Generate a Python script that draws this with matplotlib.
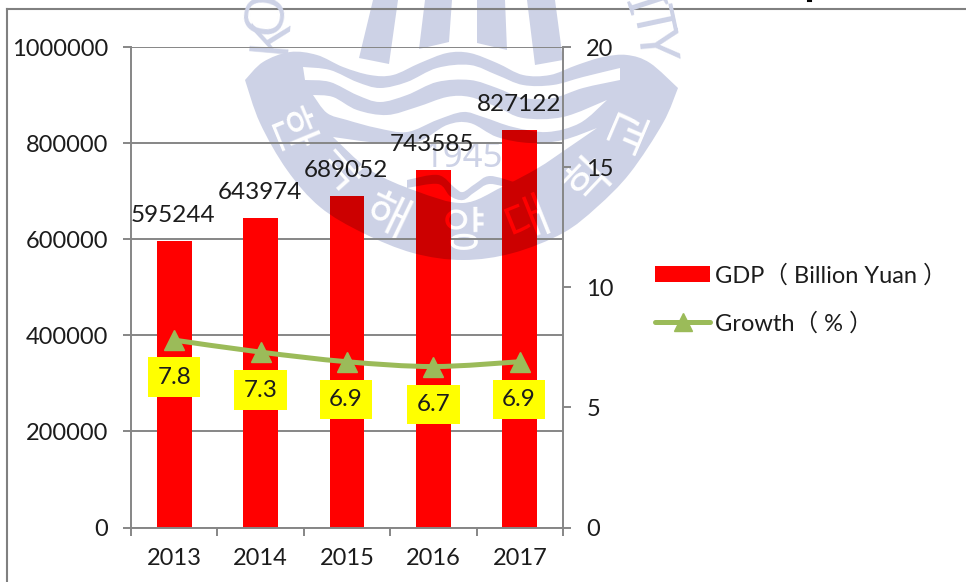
import matplotlib
matplotlib.use('Agg')
import matplotlib.pyplot as plt
import matplotlib.patheffects as pe
import numpy as np
from matplotlib.font_manager import FontProperties
from matplotlib.lines import Line2D
from matplotlib.patches import Patch, PathPatch, Polygon
from matplotlib.path import Path

plt.rcParams['font.family'] = ['Lato', 'Noto Sans CJK SC', 'DejaVu Sans']

# chart data
years = ['2013', '2014', '2015', '2016', '2017']
gdp = [595244, 643974, 689052, 743585, 827122]
growth = [7.8, 7.3, 6.9, 6.7, 6.9]
gdp_ticks = [0, 200000, 400000, 600000, 800000, 1000000]
growth_ticks = [0, 5, 10, 15, 20]
legend_gdp = 'GDP（ Billion Yuan ）'
legend_growth = 'Growth（ % ）'

# hand placed label offsets in pixels, from the point
growth_label_dy = [-37, -38, -38, -38, -38]
growth_label_dx = [0, 0, -1, 0, -1]

BAR_RED = '#FF0000'
BAR_DARK = '#CC0000'
LINE_GREEN = '#9BBB59'
AXIS_GREY = '#868686'
TEXT_COL = '#1C1C1C'
SEAL = '#CDD2E6'

# seal outline in picture pixels
seal_top = [(245, 80), (263, 62), (290, 52), (317, 55), (343, 67), (370, 75), (393, 75), (420, 63),
            (447, 53), (470, 53), (497, 63), (523, 75), (550, 75), (577, 65), (603, 57), (627, 55),
            (650, 63), (678, 88)]
seal_bottom = [(678, 88), (663, 123), (630, 173), (597, 207), (563, 233), (513, 253), (463, 260),
               (413, 253), (363, 233), (320, 207), (287, 170), (260, 123), (245, 80)]
wave1_top = [(303, 67), (330, 70), (357, 82), (380, 88), (407, 82), (437, 68), (470, 65), (497, 75),
             (523, 85), (553, 85), (583, 77), (620, 68)]
wave1_low = [(620, 80), (583, 88), (553, 98), (523, 98), (497, 88), (470, 80), (437, 82), (407, 95),
             (380, 102), (357, 95), (330, 82), (305, 80)]
wave2_top = [(313, 95), (333, 97), (357, 110), (387, 115), (417, 107), (447, 97), (470, 97), (497, 107),
             (523, 118), (563, 117), (607, 100)]
wave2_low = [(607, 100), (580, 123), (547, 132), (513, 127), (483, 117), (463, 112), (437, 120),
             (407, 132), (377, 128), (347, 120), (327, 113), (313, 95)]
inner_top = [(333, 137), (380, 143), (417, 142), (447, 125), (470, 123), (497, 137), (530, 143),
             (563, 140), (597, 128)]
inner_low = [(597, 128), (565, 150), (538, 168), (502, 187), (463, 203), (416, 191), (370, 170), (333, 137)]
book_top = [(407, 180), (438, 175), (455, 188), (463, 192), (475, 184), (490, 176), (517, 183)]
book_low = [(515, 190), (490, 184), (475, 192), (463, 200), (450, 196), (438, 184), (407, 188)]
pillars = [[(373, 0), (398, 0), (389, 64), (359, 58)],
           [(425, 0), (452, 0), (449, 42), (419, 49)],
           [(477, 0), (505, 0), (507, 50), (477, 43)],
           [(527, 0), (555, 0), (563, 60), (535, 65)]]
arc_center = (463, 60)
seal_letters = [('한', 289, 132), ('국', 340, 170), ('해', 387, 218), ('양', 464, 233),
                ('대', 528, 222), ('학', 590, 180), ('교', 632, 132)]
rim_letters = [('K', 271, 36, 85), ('O', 268, 13, 80), ('I', 640, 5, -72),
               ('T', 650, 22, -78), ('Y', 654, 44, -85)]


def curve(pts):
    # catmull-rom through the points, as bezier control points
    pts = np.array(pts, dtype=float)
    full = np.vstack([pts[0], pts, pts[-1]])
    out = []
    for i in range(1, len(full) - 2):
        out.append(full[i] + (full[i + 1] - full[i - 1]) / 6)
        out.append(full[i + 1] - (full[i + 2] - full[i]) / 6)
        out.append(full[i + 1])
    return pts[0], out


def blob(parts, hole=False):
    if hole:
        parts = [p[::-1] for p in parts[::-1]]
    verts = [parts[0][0]]
    codes = [Path.MOVETO]
    for p in parts:
        start, out = curve(p)
        verts.append(start)
        codes.append(Path.LINETO)
        verts.extend(out)
        codes.extend([Path.CURVE4] * len(out))
    verts.append(parts[0][0])
    codes.append(Path.CLOSEPOLY)
    return Path(np.array(verts, dtype=float), codes)


def letter_angle(px, py):
    # letters stand on the arc, tops towards its centre
    return -np.degrees(np.arctan2(arc_center[0] - px, py - arc_center[1]))


fig = plt.figure(figsize=(9.66, 5.82), dpi=100)

# watermark layer, in picture pixels
wm = fig.add_axes([0, 0, 1, 1], zorder=0)
wm.set_xlim(0, 966)
wm.set_ylim(582, 0)
wm.axis('off')

seal_path = Path.make_compound_path(
    blob([seal_top, seal_bottom]),
    blob([wave1_top, wave1_low], hole=True),
    blob([wave2_top, wave2_low], hole=True),
    blob([inner_top, inner_low], hole=True),
    blob([book_top, book_low]),
)
wm.add_patch(PathPatch(seal_path, facecolor=SEAL, edgecolor='none'))
for p in pillars:
    wm.add_patch(Polygon(p, closed=True, facecolor=SEAL, edgecolor='none'))
wm.text(464, 158, '1945', color=SEAL, fontsize=25, fontweight='bold',
        ha='center', va='center', family=['Noto Sans', 'DejaVu Sans'])
for s, x, y, rot in rim_letters:
    wm.text(x, y, s, color=SEAL, fontsize=40, fontweight='bold', rotation=rot,
            ha='center', va='center', family=['Noto Sans', 'DejaVu Sans'])
for s, x, y in seal_letters:
    wm.text(x, y, s, color='white', fontsize=34, rotation=letter_angle(x, y), ha='center', va='center',
            family=['Noto Sans CJK KR'])

# frame of the pasted picture
wm.plot([7, 966], [9, 9], color='#808080', lw=1.5)
wm.plot([7, 7], [9, 582], color='#808080', lw=1.5)
wm.plot([808, 811], [1, 1], color='black', lw=1.5)

# chart axes
ax1 = fig.add_axes([131 / 966, (582 - 527.5) / 582, 432 / 966, 480.5 / 582], zorder=1)
ax1.patch.set_visible(False)
x = np.arange(len(years))
bars = ax1.bar(x, gdp, width=0.405, color=BAR_RED, zorder=2)
dark = ax1.bar(x, gdp, width=0.405, color=BAR_DARK, zorder=2.1)
for b in dark:
    b.set_clip_path(seal_path, wm.transData)

ax1.set_xlim(-0.5, 4.5)
ax1.set_ylim(0, 1000000)
ax1.set_yticks(gdp_ticks)
ax1.set_yticklabels([str(t) for t in gdp_ticks])
ax1.set_xticks(np.arange(-0.5, 5, 1))
ax1.set_xticklabels([])
ax1.set_xticks(x, minor=True)
ax1.set_xticklabels(years, minor=True)
ax1.set_axisbelow(True)
ax1.grid(axis='y', color=AXIS_GREY, lw=1.4)
ax1.tick_params(axis='x', which='major', length=5.8, width=1.4, color=AXIS_GREY)
ax1.tick_params(axis='x', which='minor', length=0, pad=15, labelsize=17, labelcolor=TEXT_COL)
ax1.tick_params(axis='y', length=5.8, width=1.4, color=AXIS_GREY, pad=10.7, labelsize=17, labelcolor=TEXT_COL)
for name in ['top', 'right']:
    ax1.spines[name].set_visible(False)
for name in ['left', 'bottom']:
    ax1.spines[name].set_color(AXIS_GREY)
    ax1.spines[name].set_linewidth(1.4)

for xi, val in zip(x, gdp):
    ax1.annotate(str(val), (xi, val), xytext=(-1, 26), textcoords='offset pixels',
                 ha='center', va='center', fontsize=17.5, color=TEXT_COL, zorder=5)

# the white letters stay bright red where they cross a bar
fig.canvas.draw()
for s, px, py, i in [('양', 464, 233, 3), ('대', 528, 222, 4)]:
    t = ax1.text(px, py, s, transform=wm.transData, color=BAR_RED, fontsize=34,
                 rotation=letter_angle(px, py), ha='center', va='center',
                 family=['Noto Sans CJK KR'], zorder=3,
                 path_effects=[pe.Normal()])
    t.set_clip_box(bars[i].get_window_extent())
    t.set_clip_on(True)

ax2 = ax1.twinx()
ax2.set_zorder(2)
ax2.patch.set_visible(False)
ax2.set_ylim(0, 20)
ax2.set_yticks(growth_ticks)
ax2.tick_params(axis='y', length=5.8, width=1.4, color=AXIS_GREY, pad=11, labelsize=17, labelcolor=TEXT_COL)
for name in ['top', 'left', 'bottom']:
    ax2.spines[name].set_visible(False)
ax2.spines['right'].set_color(AXIS_GREY)
ax2.spines['right'].set_linewidth(1.4)

start, out = curve(list(zip(x, growth)))
line_path = Path(np.vstack([start, out]), [Path.MOVETO] + [Path.CURVE4] * len(out))
ax2.add_patch(PathPatch(line_path, facecolor='none', edgecolor=LINE_GREEN, lw=3.6, capstyle='round'))
ax2.plot(x, growth, linestyle='none', marker='^', markersize=14.5, color=LINE_GREEN)

for xi, val, dx, dy in zip(x, growth, growth_label_dx, growth_label_dy):
    ax2.annotate(str(val), (xi, val), xytext=(dx, dy), textcoords='offset pixels',
                 ha='center', va='center', fontsize=17.5, color=TEXT_COL, zorder=6,
                 bbox=dict(boxstyle='square,pad=0.38', facecolor='#FFFF00', edgecolor='none'))

handles = [Patch(facecolor=BAR_RED, edgecolor='none'),
           Line2D([], [], color=LINE_GREEN, lw=3.6, marker='^', markersize=13, solid_capstyle='round')]
ax2.legend(handles, [legend_gdp, legend_growth], loc='upper left',
           bbox_to_anchor=(655 / 966, 1 - 264 / 582), bbox_transform=fig.transFigure,
           frameon=False, borderpad=0, borderaxespad=0, handlelength=2.35, handletextpad=0.2,
           labelspacing=1.08, labelcolor=TEXT_COL,
           prop=FontProperties(family=['Lato', 'Noto Sans CJK SC'], size=17))

plt.savefig('out.png', dpi=100)
